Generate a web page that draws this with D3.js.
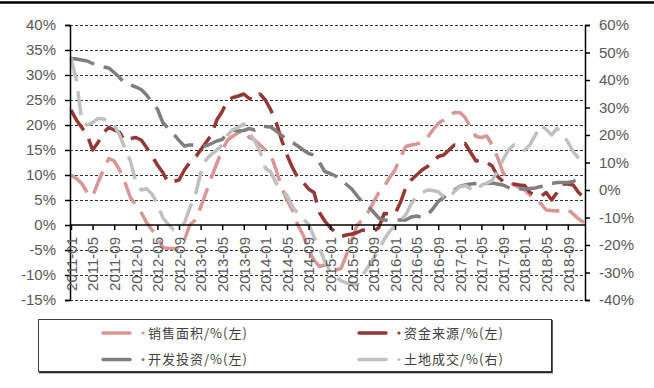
<!DOCTYPE html>
<html>
<head>
<meta charset="utf-8">
<script src="https://cdn.jsdelivr.net/npm/d3@7/dist/d3.min.js"></script>
<style>
  html, body { margin: 0; padding: 0; background: #fff; }
  svg { display: block; }
  .tick text { font-family: "Liberation Sans Narrow", "Arial Narrow", "Liberation Sans", Arial, sans-serif; fill: #595959; }
</style>
</head>
<body>
<svg id="chart" width="654" height="388"></svg>
<script>
// Monthly categories, 2011-01 .. 2018-12
const months = [];
for (let y = 2011; y <= 2018; y++) {
  for (let m = 1; m <= 12; m++) months.push(y + "-" + String(m).padStart(2, "0"));
}

// Left axis series (% YoY, cumulative)
const salesArea = [
  10.0, 9.3, 8.3, 6.5, 5.7, 8.5, 11.0, 13.3, 12.8, 11.0, 8.5, 5.5,
  4.0, 2.5, 0.5, -1.0, -2.5, -4.5, -4.7, -4.7, -4.7, -3.0, 0.0, 1.0,
  3.5, 6.5, 9.5, 12.3, 15.0, 17.0, 17.8, 18.5, 19.0, 17.5, 17.0, 16.0,
  15.0, 14.0, 11.0, 7.5, 5.0, 3.0, 0.0, -2.0, -5.0, -7.0, -8.3, -8.0,
  -8.5, -9.0, -8.7, -6.0, -3.0, 0.0, 1.0, 2.5, 4.5, 6.5, 7.7, 9.5,
  11.0, 13.5, 15.7, 16.0, 16.2, 16.5, 17.5, 19.0, 20.3, 21.0, 21.8, 22.5,
  22.5, 21.5, 19.5, 17.7, 17.5, 17.8, 16.0, 13.5, 10.5, 9.0, 8.0, 7.5,
  7.0, 6.0, 4.8, 4.3, 3.0, 2.9, 2.8, 3.0, 3.1, 2.2, 1.2, 0.5
];
const fundSource = [
  23.0, 21.0, 19.5, 18.0, 15.0, 16.5, 18.5, 19.5, 19.0, 18.5, 16.8, 17.3,
  17.5, 17.0, 15.5, 13.8, 12.0, 10.5, 8.5, 8.7, 9.0, 11.0, 12.5, 13.5,
  15.0, 16.5, 18.0, 21.0, 22.7, 25.0, 25.5, 25.8, 26.2, 25.3, 25.0, 26.2,
  25.0, 23.0, 20.5, 17.0, 14.0, 11.5, 9.5, 8.5, 7.2, 6.5, 2.5, 0.8,
  -0.5, -1.5, -2.3, -2.0, -1.8, -1.5, -1.0, -1.2, -1.3, -0.5, 2.3, 2.2,
  2.2, 4.5, 7.5, 9.0, 10.0, 11.0, 11.7, 12.5, 13.7, 14.0, 15.0, 16.0,
  15.8, 16.3, 14.5, 12.8, 13.0, 12.5, 11.8, 9.7, 8.7, 8.5, 8.2, 8.0,
  7.9, 6.5, 6.0, 5.7, 6.5, 5.0, 6.5, 8.2, 8.2, 8.0, 6.5, 5.5
];
const devInvest = [
  33.3, 33.2, 33.0, 32.8, 32.3, 31.8, 31.6, 31.4, 30.5, 29.5, 28.3, 28.0,
  27.6, 27.1, 26.0, 24.5, 23.2, 20.5, 19.3, 18.2, 16.9, 15.8, 16.0, 16.0,
  15.9, 15.8, 16.3, 16.8, 17.1, 18.5, 19.0, 18.8, 18.9, 19.3, 19.0, 19.8,
  19.7, 19.6, 18.8, 17.9, 17.2, 16.5, 15.8, 15.0, 14.3, 14.0, 12.5, 10.7,
  10.3, 9.8, 9.0, 8.1, 7.2, 5.8, 4.5, 3.8, 2.6, 1.4, 1.0, 0.9,
  1.0, 1.0, 1.0, 1.6, 1.8, 1.5, 2.0, 3.2, 4.7, 5.5, 6.3, 7.0,
  7.7, 8.0, 8.2, 8.3, 8.3, 8.3, 8.4, 8.2, 8.0, 7.5, 7.0, 7.2,
  7.2, 7.3, 7.4, 7.7, 7.7, 8.3, 8.5, 8.5, 8.5, 8.7, 9.3, 9.9
];
// Right axis series
const landDeals = [
  48.0, 40.0, 25.0, 23.6, 24.5, 26.0, 25.8, 25.2, 23.5, 20.0, 15.0, 10.5,
  3.0, 0.0, 0.5, -1.5, -5.0, -10.0, -12.5, -14.5, -14.0, -12.0, -6.5, -2.0,
  6.0, 11.0, 13.0, 14.5, 16.4, 20.0, 22.0, 22.8, 24.0, 21.0, 18.0, 14.0,
  8.0, 6.5, 2.5, 0.0, -2.0, -6.0, -8.5, -10.5, -12.5, -17.0, -21.0, -26.0,
  -29.5, -31.5, -33.0, -33.8, -34.2, -34.5, -31.0, -28.0, -25.0, -21.8, -18.0, -15.0,
  -13.0, -11.0, -9.0, -5.0, -2.5, -1.0, 0.0, -0.2, -0.6, -2.5, -3.0, -0.5,
  1.2, 1.6, 0.5, -0.5, 1.8, 2.5, 3.5, 7.0, 11.0, 14.5, 16.4, 16.4,
  14.5, 16.5, 20.0, 23.6, 22.0, 20.0, 22.4, 20.5, 17.5, 14.0, 11.5, 9.0
];

const leftTicks = [-15, -10, -5, 0, 5, 10, 15, 20, 25, 30, 35, 40];
const rightTicks = [-40, -30, -20, -10, 0, 10, 20, 30, 40, 50, 60];
const labelMonths = months.filter((d, i) => i % 4 === 0);

const seriesNames = ["销售面积/%(左)", "资金来源/%(左)", "开发投资/%(左)", "土地成交/%(右)"];
const seriesColors = ["#d99694", "#953735", "#7f7f7f", "#c0c0c0"];
const seriesAxis = ["left", "left", "left", "right"];
const seriesData = [salesArea, fundSource, devInvest, landDeals];

const svg = d3.select("#chart");
const plot = { left: 70, right: 585, top: 25, bottom: 300 };

const x = d3.scalePoint().domain(months).range([71, 584]);
const yL = d3.scaleLinear().domain([-15, 40]).range([plot.bottom, plot.top]);
const yR = d3.scaleLinear().domain([-40, 60]).range([plot.bottom, plot.top]);

// top rule
svg.append("line").attr("x1", 0).attr("x2", 654).attr("y1", 2.5).attr("y2", 2.5)
  .attr("stroke", "#000").attr("stroke-width", 2.5);

// dashed gridlines on left-axis ticks
const grid = svg.append("g").attr("transform", `translate(${plot.left},0)`)
  .call(d3.axisLeft(yL).tickValues(leftTicks.filter(d => d !== 0))
    .tickSize(-(plot.right - plot.left)).tickFormat(""));
grid.select(".domain").remove();
grid.selectAll(".tick line").attr("stroke", "#333").attr("stroke-dasharray", "3,2").attr("stroke-width", 1);

// series lines
const line = (scale) => d3.line().x((d, i) => x(months[i])).y(d => scale(d));
seriesData.forEach((data, k) => {
  const scale = seriesAxis[k] === "left" ? yL : yR;
  svg.append("path").datum(data)
    .attr("fill", "none")
    .attr("stroke", seriesColors[k])
    .attr("stroke-width", 3.5)
    .attr("stroke-linejoin", "round")
    .attr("stroke-dasharray", "24,10")
    .attr("d", line(scale));
});

// left axis
const gL = svg.append("g").attr("transform", `translate(${plot.left},0)`)
  .call(d3.axisLeft(yL).tickValues(leftTicks).tickSize(5).tickPadding(9).tickFormat(d => d + "%"));
gL.selectAll(".tick text").attr("font-size", 15);
gL.selectAll("line, path").attr("stroke", "#000").attr("stroke-width", 1.5);

// right axis
const gR = svg.append("g").attr("transform", `translate(${plot.right},0)`)
  .call(d3.axisRight(yR).tickValues(rightTicks).tickSize(5).tickPadding(9).tickFormat(d => d + "%"));
gR.selectAll(".tick text").attr("font-size", 15);
gR.selectAll("line, path").attr("stroke", "#000").attr("stroke-width", 1.5);

// category axis along 0%
const gX = svg.append("g").attr("transform", `translate(0,${yL(0)})`)
  .call(d3.axisBottom(x).tickValues(labelMonths).tickSize(5).tickSizeOuter(0));
gX.select(".domain").attr("d", `M${plot.left},0H${plot.right}`).attr("stroke", "#000").attr("stroke-width", 1.5);
gX.selectAll(".tick line").attr("stroke", "#000").attr("stroke-width", 1.5);
gX.selectAll(".tick text")
  .attr("font-size", 15)
  .attr("text-anchor", "end")
  .attr("x", 0).attr("y", 0).attr("dy", "0.35em")
  .attr("transform", "translate(0,12) rotate(-90)");

// legend
const lg = svg.append("g");
lg.append("rect").attr("x", 38.5).attr("y", 319.5).attr("width", 513).attr("height", 52)
  .attr("fill", "#fff").attr("stroke", "#404040").attr("stroke-width", 1);
lg.append("path").attr("d", "M552,320V372.5H39").attr("fill", "none").attr("stroke", "#262626").attr("stroke-width", 1.5);

const legendPos = [[103, 333], [359, 333], [103, 359.5], [359, 359.5]];
seriesNames.forEach((name, k) => {
  const [lx, ly] = legendPos[k];
  const g = lg.append("g").attr("transform", `translate(${lx},${ly})`);
  g.append("line").attr("x1", 0).attr("x2", 27).attr("y1", 0).attr("y2", 0)
    .attr("stroke", seriesColors[k]).attr("stroke-width", 3.5).attr("stroke-linecap", "round");
  g.append("circle").attr("cx", 40).attr("cy", 0).attr("r", 1.6).attr("fill", seriesColors[k]);
  g.append("text").attr("x", 45).attr("y", 0).attr("dy", "0.36em")
    .attr("font-family", "'Noto Sans CJK SC', sans-serif")
    .attr("font-size", 13).attr("letter-spacing", 1).attr("fill", "#404040")
    .text(name);
});
</script>
</body>
</html>
